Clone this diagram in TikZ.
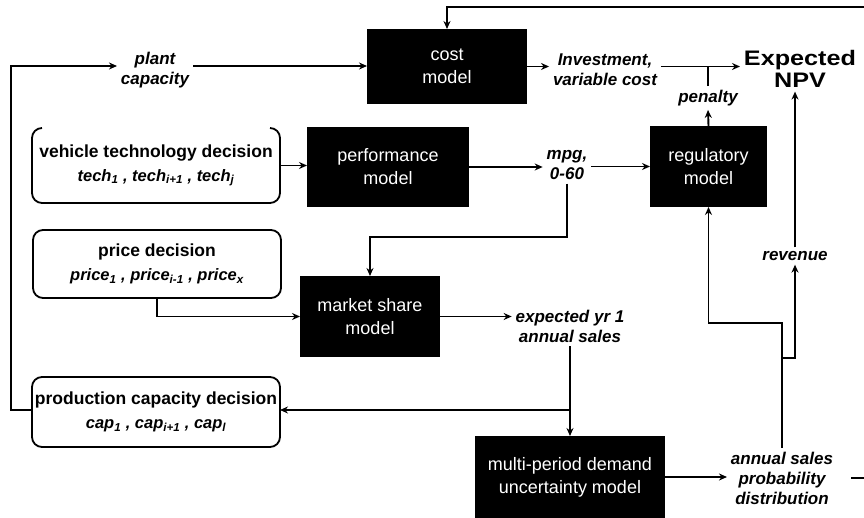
\documentclass[tikz,border=0pt]{standalone}
\usepackage{fontspec}
\setmainfont{Liberation Sans}
\usetikzlibrary{arrows.meta,calc}
\begin{document}
\begin{tikzpicture}[x=1pt,y=-1pt,
  every node/.style={inner sep=0pt,outer sep=0pt},
  model/.style={fill=black,text=white,align=center,font=\fontsize{18}{23}\selectfont},
  decbox/.style={align=center,minimum width=248pt,font=\fontsize{17.5}{24}\selectfont\bfseries},
  decline/.style={line width=1.8pt,rounded corners=10pt},
  lbl/.style={align=center,inner sep=4pt,font=\fontsize{17}{20}\selectfont\bfseries\itshape},
  arr/.style={line width=1.9pt,-{Stealth[length=8pt,width=7pt]}},
  ln/.style={line width=1.9pt}]
\useasboundingbox (0,0) rectangle (864,518);

% model boxes
\node[model,minimum width=160pt,minimum height=75pt] (cost) at (447,66.5) {cost\\model};
\node[model,minimum width=162pt,minimum height=80pt] (perf) at (388,167) {performance\\model};
\node[model,minimum width=117pt,minimum height=81pt] (reg) at (708.5,166.5) {regulatory\\model};
\node[model,minimum width=140pt,minimum height=81pt] (market) at (370,316.5) {market share\\model};
\node[model,minimum width=190pt,minimum height=82pt] (multi) at (570,477) {multi-period demand\\uncertainty model};

% decision boxes
\node[decbox,minimum height=75pt] (veh) at (156,165.5)
  {vehicle technology decision\\{\fontsize{16.5}{18}\selectfont\itshape tech\textsubscript{1} , tech\textsubscript{i+1} , tech\textsubscript{j}}};
\node[decbox,minimum height=68pt] (price) at (157,264)
  {price decision\\{\fontsize{16.5}{18}\selectfont\itshape price\textsubscript{1} , price\textsubscript{i-1} , price\textsubscript{x}}};
\node[decbox,minimum height=70pt] (prod) at (156,412)
  {production capacity decision\\{\fontsize{16.5}{18}\selectfont\itshape cap\textsubscript{1} , cap\textsubscript{i+1} , cap\textsubscript{l}}};
\draw[decline] ([xshift=10pt]veh.north west) -- (veh.north west) -- (veh.south west)
  -- (veh.south east) -- (veh.north east) -- ([xshift=-10pt]veh.north east);
\draw[decline] (price.north west) rectangle (price.south east);
\draw[decline] (prod.north west) rectangle (prod.south east);

% labels
\node[lbl] (plant) at (155,70) {plant\\capacity};
\node[lbl] (inv) at (605,70) {Investment,\\variable cost};
\node[lbl,font=\fontsize{21}{22}\selectfont\bfseries] (npv) at (800,69) {\scalebox{1.2}[1]{Expected}\\\scalebox{1.2}[1]{NPV}};
\node[lbl] (pen) at (708,98) {penalty};
\node[lbl] (mpg) at (567,165) {mpg,\\0-60};
\node[lbl] (rev) at (795,256) {revenue};
\node[lbl] (exp) at (570,326) {expected yr 1\\annual sales};
\node[lbl] (ann) at (782,478) {annual sales\\probability\\distribution};

% connector points
\coordinate (lft) at (11,66);
\coordinate (m1) at (567,237);
\coordinate (rj) at (708.5,323);
\coordinate (aj) at (782,358);
\coordinate (fb) at (870,7);

% connectors
\draw[arr] (prod.west |- 0,410) -| (lft) -- (plant.west |- lft);
\draw[arr] (plant.east |- lft) -- (cost.west |- lft);
\draw[arr] (cost.east) -- (inv.west |- cost.east);
\draw[arr] (inv.east |- cost.east) -- (npv.west |- cost.east);
\draw[ln] (pen.north) -- (pen.north |- cost.east);
\draw[arr] (reg.north) -- (pen.south);
\draw[arr] (veh.east) -- (veh.east -| perf.west);
\draw[arr] (perf.east) -- (mpg.west |- perf.east);
\draw[arr] (mpg.east |- reg.west) -- (reg.west);
\draw[arr] (mpg.south) -- (m1) -- (m1 -| market.north) -- (market.north);
\draw[arr] (price.south) |- (market.west);
\draw[arr] (market.east) -- (exp.west |- market.east);
\draw[arr] (exp.south) -- (exp.south |- multi.north);
\draw[arr] (exp.south |- 0,410) -- (prod.east |- 0,410);
\draw[arr] (multi.east) -- (ann.west |- multi.east);
\draw[arr] (ann.north) |- (rj) -- (reg.south);
\draw[arr] (aj) -| (rev.south);
\draw[arr] (rev.north) -- (rev.north |- npv.south);
\draw[arr,shorten <=14pt] (ann.east) -| (fb) -- (fb -| cost.north) -- (cost.north);
\end{tikzpicture}
\end{document}
